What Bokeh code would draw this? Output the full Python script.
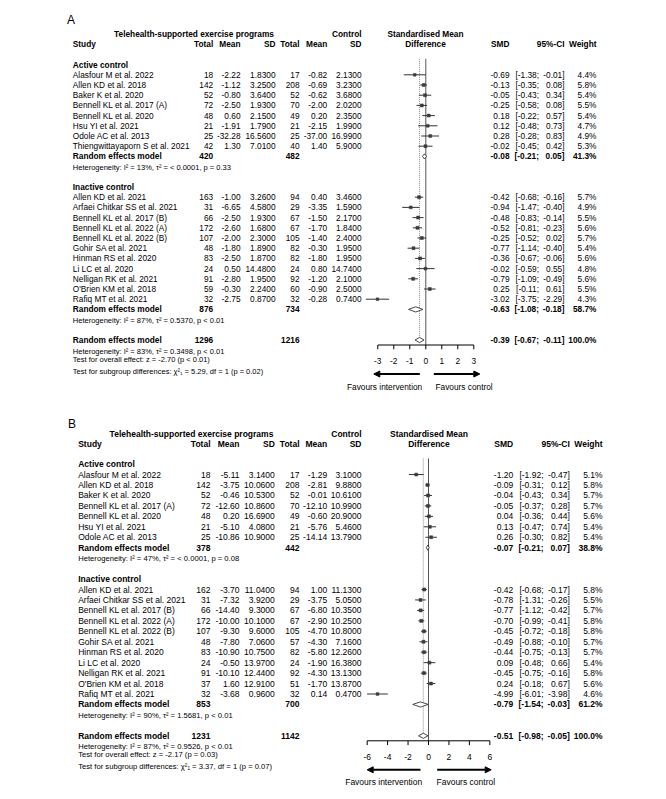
from collections import defaultdict
from bokeh.plotting import figure
from bokeh.models import Range1d, ColumnDataSource, Arrow, NormalHead
from bokeh.embed import file_html
from bokeh.resources import INLINE
from bokeh.core.properties import value

FONT = "Liberation Sans"

# ======================= DATA : panel A =======================
a_act_study = ["Alasfour M et al. 2022", "Allen KD et al. 2018", "Baker K et al. 2020",
               "Bennell KL et al. 2017 (A)", "Bennell KL et al. 2020", "Hsu YI et al. 2021",
               "Odole AC et al. 2013", "Thiengwittayaporn S et al. 2021"]
a_act_en = [18, 142, 52, 72, 48, 21, 25, 42]
a_act_em = [-2.22, -1.12, -0.80, -2.50, 0.60, -1.91, -32.28, 1.30]
a_act_esd = [1.83, 3.25, 3.64, 1.93, 2.15, 1.79, 16.56, 7.01]
a_act_cn = [17, 208, 52, 70, 49, 21, 25, 40]
a_act_cm = [-0.82, -0.69, -0.62, -2.00, 0.20, -2.15, -37.00, 1.40]
a_act_csd = [2.13, 3.23, 3.68, 2.02, 2.35, 1.99, 16.99, 5.90]
a_act_smd = [-0.69, -0.13, -0.05, -0.25, 0.18, 0.12, 0.28, -0.02]
a_act_lo = [-1.38, -0.35, -0.43, -0.58, -0.22, -0.48, -0.28, -0.45]
a_act_hi = [-0.01, 0.08, 0.34, 0.08, 0.57, 0.73, 0.83, 0.42]
a_act_w = [4.4, 5.8, 5.4, 5.5, 5.4, 4.7, 4.9, 5.3]
a_act_re = [420, 482, -0.08, -0.21, 0.05, 41.3]
a_act_het = "Heterogeneity: I² = 13%, τ² = < 0.0001, p = 0.33"

a_ina_study = ["Allen KD et al. 2021", "Arfaei Chitkar SS et al. 2021", "Bennell KL et al. 2017 (B)",
               "Bennell KL et al. 2022 (A)", "Bennell KL et al. 2022 (B)", "Gohir SA et al. 2021",
               "Hinman RS et al. 2020", "Li LC et al. 2020", "Nelligan RK et al. 2021",
               "O'Brien KM et al. 2018", "Rafiq MT et al. 2021"]
a_ina_en = [163, 31, 66, 172, 107, 48, 83, 24, 91, 59, 32]
a_ina_em = [-1.00, -6.65, -2.50, -2.60, -2.00, -1.80, -2.50, 0.50, -2.80, -0.30, -2.75]
a_ina_esd = [3.26, 4.58, 1.93, 1.68, 2.30, 1.89, 1.87, 14.48, 1.95, 2.24, 0.87]
a_ina_cn = [94, 29, 67, 67, 105, 82, 82, 24, 92, 60, 32]
a_ina_cm = [0.40, -3.35, -1.50, -1.70, -1.40, -0.30, -1.80, 0.80, -1.20, -0.90, -0.28]
a_ina_csd = [3.46, 1.59, 2.17, 1.84, 2.40, 1.95, 1.95, 14.74, 2.10, 2.50, 0.74]
a_ina_smd = [-0.42, -0.94, -0.48, -0.52, -0.25, -0.77, -0.36, -0.02, -0.79, 0.25, -3.02]
a_ina_lo = [-0.68, -1.47, -0.83, -0.81, -0.52, -1.14, -0.67, -0.59, -1.09, -0.11, -3.75]
a_ina_hi = [-0.16, -0.40, -0.14, -0.23, 0.02, -0.40, -0.06, 0.55, -0.49, 0.61, -2.29]
a_ina_w = [5.7, 4.9, 5.5, 5.6, 5.7, 5.4, 5.6, 4.8, 5.6, 5.5, 4.3]
a_ina_re = [876, 734, -0.63, -1.08, -0.18, 58.7]
a_ina_het = "Heterogeneity: I² = 87%, τ² = 0.5370, p < 0.01"

a_all_re = [1296, 1216, -0.39, -0.67, -0.11, 100.0]
a_all_het = "Heterogeneity: I² = 83%, τ² = 0.3498, p < 0.01"
a_test_overall = "Test for overall effect: z = -2.70 (p < 0.01)"
a_test_sub = "Test for subgroup differences: χ²₁ = 5.29, df = 1 (p = 0.02)"
a_ticks = [-3, -2, -1, 0, 1, 2, 3]
a_tick_labels = ["-3", "-2", "-1", "0", "1", "2", "3"]

# ======================= DATA : panel B =======================
b_act_study = ["Alasfour M et al. 2022", "Allen KD et al. 2018", "Baker K et al. 2020",
               "Bennell KL et al. 2017 (A)", "Bennell KL et al. 2020", "Hsu YI et al. 2021",
               "Odole AC et al. 2013"]
b_act_en = [18, 142, 52, 72, 48, 21, 25]
b_act_em = [-5.11, -3.75, -0.46, -12.60, 0.20, -5.10, -10.86]
b_act_esd = [3.14, 10.06, 10.53, 10.86, 16.69, 4.08, 10.90]
b_act_cn = [17, 208, 52, 70, 49, 21, 25]
b_act_cm = [-1.29, -2.81, -0.01, -12.10, -0.60, -5.76, -14.14]
b_act_csd = [3.10, 9.88, 10.61, 10.99, 20.90, 5.46, 13.79]
b_act_smd = [-1.20, -0.09, -0.04, -0.05, 0.04, 0.13, 0.26]
b_act_lo = [-1.92, -0.31, -0.43, -0.37, -0.36, -0.47, -0.30]
b_act_hi = [-0.47, 0.12, 0.34, 0.28, 0.44, 0.74, 0.82]
b_act_w = [5.1, 5.8, 5.7, 5.7, 5.6, 5.4, 5.4]
b_act_re = [378, 442, -0.07, -0.21, 0.07, 38.8]
b_act_het = "Heterogeneity: I² = 47%, τ² = < 0.0001, p = 0.08"

b_ina_study = ["Allen KD et al. 2021", "Arfaei Chitkar SS et al. 2021", "Bennell KL et al. 2017 (B)",
               "Bennell KL et al. 2022 (A)", "Bennell KL et al. 2022 (B)", "Gohir SA et al. 2021",
               "Hinman RS et al. 2020", "Li LC et al. 2020", "Nelligan RK et al. 2021",
               "O'Brien KM et al. 2018", "Rafiq MT et al. 2021"]
b_ina_en = [162, 31, 66, 172, 107, 48, 83, 24, 91, 37, 32]
b_ina_em = [-3.70, -7.32, -14.40, -10.00, -9.30, -7.80, -10.90, -0.50, -10.10, 1.60, -3.68]
b_ina_esd = [11.04, 3.92, 9.30, 10.10, 9.60, 7.06, 10.75, 13.97, 12.44, 12.91, 0.96]
b_ina_cn = [94, 29, 67, 67, 105, 57, 82, 24, 92, 51, 32]
b_ina_cm = [1.00, -3.75, -6.80, -2.90, -4.70, -4.30, -5.80, -1.90, -4.30, -1.70, 0.14]
b_ina_csd = [11.13, 5.05, 10.35, 10.25, 10.80, 7.16, 12.26, 16.38, 13.13, 13.87, 0.47]
b_ina_smd = [-0.42, -0.78, -0.77, -0.70, -0.45, -0.49, -0.44, 0.09, -0.45, 0.24, -4.99]
b_ina_lo = [-0.68, -1.31, -1.12, -0.99, -0.72, -0.88, -0.75, -0.48, -0.75, -0.18, -6.01]
b_ina_hi = [-0.17, -0.26, -0.42, -0.41, -0.18, -0.10, -0.13, 0.66, -0.16, 0.67, -3.98]
b_ina_w = [5.8, 5.5, 5.7, 5.8, 5.8, 5.7, 5.7, 5.4, 5.8, 5.6, 4.6]
b_ina_re = [853, 700, -0.79, -1.54, -0.03, 61.2]
b_ina_het = "Heterogeneity: I² = 90%, τ² = 1.5681, p < 0.01"

b_all_re = [1231, 1142, -0.51, -0.98, -0.05, 100.0]
b_all_het = "Heterogeneity: I² = 87%, τ² = 0.9526, p < 0.01"
b_test_overall = "Test for overall effect: z = -2.17 (p = 0.03)"
b_test_sub = "Test for subgroup differences: χ²₁ = 3.37, df = 1 (p = 0.07)"
b_ticks = [-6, -4, -2, 0, 2, 4, 6]
b_tick_labels = ["-6", "-4", "-2", "0", "2", "4", "6"]

group_names = ["Active control", "Inactive control"]
header1 = ["Telehealth-supported exercise programs", "Control", "Standardised Mean"]
header2 = ["Study", "Total", "Mean", "SD", "Total", "Mean", "SD", "Difference", "SMD", "95%-CI", "Weight"]
re_label = "Random effects model"
fav_labels = ["Favours intervention", "Favours control"]


def grp(study, en, em, esd, cn, cm, csd, smd, lo, hi, w, re, het):
    return dict(study=study, en=en, em=em, esd=esd, cn=cn, cm=cm, csd=csd,
                smd=smd, lo=lo, hi=hi, w=w, re=re, het=het)


PANELS = {
    "A": dict(groups=[grp(a_act_study, a_act_en, a_act_em, a_act_esd, a_act_cn, a_act_cm, a_act_csd,
                          a_act_smd, a_act_lo, a_act_hi, a_act_w, a_act_re, a_act_het),
                      grp(a_ina_study, a_ina_en, a_ina_em, a_ina_esd, a_ina_cn, a_ina_cm, a_ina_csd,
                          a_ina_smd, a_ina_lo, a_ina_hi, a_ina_w, a_ina_re, a_ina_het)],
              overall=a_all_re, het=a_all_het, t1=a_test_overall, t2=a_test_sub,
              ticks=a_ticks, tick_labels=a_tick_labels),
    "B": dict(groups=[grp(b_act_study, b_act_en, b_act_em, b_act_esd, b_act_cn, b_act_cm, b_act_csd,
                          b_act_smd, b_act_lo, b_act_hi, b_act_w, b_act_re, b_act_het),
                      grp(b_ina_study, b_ina_en, b_ina_em, b_ina_esd, b_ina_cn, b_ina_cm, b_ina_csd,
                          b_ina_smd, b_ina_lo, b_ina_hi, b_ina_w, b_ina_re, b_ina_het)],
              overall=b_all_re, het=b_all_het, t1=b_test_overall, t2=b_test_sub,
              ticks=b_ticks, tick_labels=b_tick_labels),
}

# ======================= LAYOUT (page pixels) =======================
LAYOUT = {
    "A": dict(y0=64.1, sp=10.2, x0=425.3, ppu=16.0, study_x=72.3,
              et=212.7, em=240.0, esd=275.0, ct=299.0, cm=326.7, csd=361.0,
              smd=509.0, cimid=538.5, ci=564.0, wt=596.0,
              tele_c=193.5, fd_c=425.0, fs="8.3px", fs2="7.5px",
              lab_x=66.5, lab_dy=-44.6,
              arr_l=(419.3, 373.3), arr_r=(433.3, 479.3), fav_l=421.7, fav_r=435.0),
    "B": dict(y0=463.6, sp=10.45, x0=428.0, ppu=10.22, study_x=77.7,
              et=210.0, em=239.0, esd=274.3, ct=299.0, cm=326.7, csd=361.0,
              smd=512.7, cimid=543.0, ci=569.3, wt=602.0,
              tele_c=191.0, fd_c=428.5, fs="8.5px", fs2="7.65px",
              lab_x=67.5, lab_dy=-40.3,
              arr_l=(420.0, 366.7), arr_r=(436.7, 490.7), fav_l=421.7, fav_r=436.0),
}

W, H = 666, 799
PX0, PX1 = 0, 666
PY0, PY1 = 0, 799

p = figure(width=W, height=H, x_range=Range1d(PX0, PX1), y_range=Range1d(PY1, PY0),
           output_backend="svg", toolbar_location=None, x_axis_type=None, y_axis_type=None,
           min_border=0, background_fill_color="white", border_fill_color="white")
p.outline_line_color = None

TXT = defaultdict(lambda: dict(x=[], y=[], text=[]))


def T(panel, x, y, s, align="left", bold=False, size=None, xr="default"):
    key = (panel, xr, align, "bold" if bold else "normal", size)
    d = TXT[key]
    d["x"].append(x)
    d["y"].append(y)
    d["text"].append(s)


for key in ["A", "B"]:
    L = LAYOUT[key]
    D = PANELS[key]
    sp, y0 = L["sp"], L["y0"]
    yr, xr = "rows" + key, "smd" + key
    p.extra_y_ranges[yr] = Range1d(start=(PY1 - y0) / sp, end=(PY0 - y0) / sp)
    p.extra_x_ranges[xr] = Range1d(start=(PX0 - L["x0"]) / L["ppu"], end=(PX1 - L["x0"]) / L["ppu"])
    fs, fs2 = L["fs"], L["fs2"]

    def row_texts(r, name, en, em, esd, cn, cm, csd, smd, lo, hi, w, bold):
        T(key, L["study_x"], r, name, "left", bold, fs)
        T(key, L["et"], r, str(en), "right", bold, fs)
        if em is not None:
            T(key, L["em"], r, f"{em:.2f}", "right", bold, fs)
            T(key, L["esd"], r, f"{esd:.4f}", "right", bold, fs)
            T(key, L["cm"], r, f"{cm:.2f}", "right", bold, fs)
            T(key, L["csd"], r, f"{csd:.4f}", "right", bold, fs)
        T(key, L["ct"], r, str(cn), "right", bold, fs)
        T(key, L["smd"], r, f"{smd:.2f}", "right", bold, fs)
        T(key, L["cimid"], r, f"[{lo:.2f};", "right", bold, fs)
        T(key, L["ci"], r, f"{hi:.2f}]", "right", bold, fs)
        T(key, L["wt"], r, f"{w:.1f}%", "right", bold, fs)

    # panel label and headers
    T(key, L["lab_x"], L["lab_dy"] / sp, key, "left", False, "12px")
    h1 = -30.6 / sp
    h2 = -20.2 / sp
    T(key, L["tele_c"], h1, header1[0], "center", True, fs)
    T(key, L["csd"], h1, header1[1], "right", True, fs)
    T(key, L["fd_c"], h1, header1[2], "center", True, fs)
    T(key, L["study_x"], h2, header2[0], "left", True, fs)
    for col, lab in zip(["et", "em", "esd", "ct", "cm", "csd"], header2[1:7]):
        T(key, L[col], h2, lab, "right", True, fs)
    T(key, L["fd_c"], h2, header2[7], "center", True, fs)
    T(key, L["smd"], h2, header2[8], "right", True, fs)
    T(key, L["ci"], h2, header2[9], "right", True, fs)
    T(key, L["wt"], h2, header2[10], "right", True, fs)

    st_rows, st_smd, st_lo, st_hi, st_w = [], [], [], [], []
    dia_xs, dia_ys = [], []
    half = 2.6 / sp

    def diamond(r, est, lo, hi):
        dia_xs.append([lo, est, hi, est])
        dia_ys.append([r, r - half, r, r + half])

    start = 0
    for gname, g in zip(group_names, D["groups"]):
        T(key, L["study_x"], start, gname, "left", True, fs)
        k = len(g["study"])
        for i in range(k):
            r = start + 1 + i
            row_texts(r, g["study"][i], g["en"][i], g["em"][i], g["esd"][i], g["cn"][i],
                      g["cm"][i], g["csd"][i], g["smd"][i], g["lo"][i], g["hi"][i], g["w"][i], False)
            st_rows.append(r)
            st_smd.append(g["smd"][i])
            st_lo.append(g["lo"][i])
            st_hi.append(g["hi"][i])
            st_w.append(g["w"][i])
        rr = start + k + 1
        re = g["re"]
        row_texts(rr, re_label, re[0], None, None, re[1], None, None, re[2], re[3], re[4], re[5], True)
        diamond(rr, re[2], re[3], re[4])
        T(key, L["study_x"], rr + 11.2 / sp, g["het"], "left", False, fs2)
        start = start + k + 4

    ov = start
    o = D["overall"]
    row_texts(ov, re_label, o[0], None, None, o[1], None, None, o[2], o[3], o[4], o[5], True)
    diamond(ov, o[2], o[3], o[4])
    T(key, L["study_x"], ov + 11.0 / sp, D["het"], "left", False, fs2)
    T(key, L["study_x"], ov + 19.0 / sp, D["t1"], "left", False, fs2)
    T(key, L["study_x"], ov + 31.0 / sp, D["t2"], "left", False, fs2)

    top_r = -5.7 / sp
    axis_r = ov + 5.0 / sp
    # reference lines
    p.segment(x0=[0], y0=[top_r], x1=[0], y1=[axis_r], line_color="#555555", line_width=1,
              x_range_name=xr, y_range_name=yr)
    p.segment(x0=[o[2]], y0=[top_r], x1=[o[2]], y1=[ov + 0.25], line_color="#8c8c8c",
              line_width=1, line_dash="1 1", x_range_name=xr, y_range_name=yr)
    # CIs and squares
    p.segment(x0=st_lo, y0=st_rows, x1=st_hi, y1=st_rows, line_color="#333333", line_width=1,
              x_range_name=xr, y_range_name=yr)
    sizes = [3.1 * (w / 5.8) ** 0.5 for w in st_w]
    src = ColumnDataSource(dict(x=st_smd, y=st_rows, s=sizes))
    p.scatter(x="x", y="y", size="s", marker="square", source=src, fill_color="#3a3a3a",
              line_color="#3a3a3a", line_width=0.5, x_range_name=xr, y_range_name=yr)
    # diamonds
    p.patches(xs=dia_xs, ys=dia_ys, fill_color="white", line_color="#333333", line_width=0.9,
              x_range_name=xr, y_range_name=yr)
    # axis
    ticks = D["ticks"]
    p.segment(x0=[ticks[0]], y0=[axis_r], x1=[ticks[-1]], y1=[axis_r], line_color="black",
              line_width=1, x_range_name=xr, y_range_name=yr)
    p.segment(x0=ticks, y0=[axis_r] * len(ticks), x1=ticks, y1=[axis_r + 4.3 / sp] * len(ticks),
              line_color="black", line_width=1, x_range_name=xr, y_range_name=yr)
    for t, lab in zip(ticks, D["tick_labels"]):
        T(key, t, ov + 20.7 / sp, lab, "center", False, fs, xr=xr)
    # arrows (page pixel coordinates)
    ay = y0 + sp * ov + 34.0
    for (xs, xe) in [L["arr_l"], L["arr_r"]]:
        p.add_layout(Arrow(x_start=xs, y_start=ay, x_end=xe, y_end=ay, line_width=2,
                           line_color="black",
                           end=NormalHead(size=6, fill_color="black", line_color="black")))
    T(key, L["fav_l"], ov + 46.5 / sp, fav_labels[0], "right", False, fs)
    T(key, L["fav_r"], ov + 46.5 / sp, fav_labels[1], "left", False, fs)

for (panel, xr, align, style, size), d in TXT.items():
    kw = {}
    if xr != "default":
        kw["x_range_name"] = xr
    p.text(x="x", y="y", text="text", source=ColumnDataSource(dict(d)),
           text_align=align, text_baseline="middle", text_font=value(FONT),
           text_font_size=value(size), text_font_style=style, text_color="black",
           y_range_name="rows" + panel, **kw)

open("out.html", "w").write(file_html(p, INLINE))
